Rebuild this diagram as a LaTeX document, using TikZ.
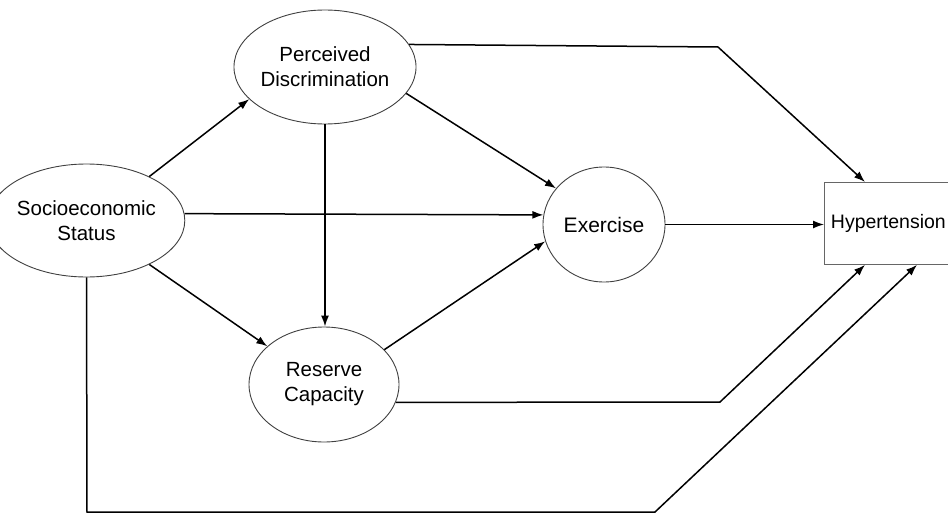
\documentclass[tikz,border=0pt]{standalone}
\usepackage{fontspec}
\setmainfont{Liberation Sans}
\usetikzlibrary{shapes.geometric,arrows.meta}
\begin{document}
\begin{tikzpicture}[x=1pt,y=-1pt,
  lat/.style={ellipse,draw=black!75,line width=0.9pt,inner sep=0pt,align=center,
    font=\fontsize{20.5}{25}\selectfont},
  obs/.style={rectangle,draw=black!60,line width=0.9pt,inner sep=0pt,
    font=\fontsize{19.5}{24}\selectfont},
  arr/.style={line width=1.5pt,-{Latex[length=11pt,width=8pt]}}]
\useasboundingbox (0,0) rectangle (948,514);
\node[lat,minimum width=153pt,minimum height=113pt] (ses) at (86.5,220.5) {Socioeconomic\\Status};
\node[lat,minimum width=152pt,minimum height=114pt] (pd) at (325,67) {Perceived\\Discrimination};
\node[lat,minimum width=150pt,minimum height=115pt] (rc) at (324,384.5) {Reserve\\Capacity};
\node[lat,minimum width=122pt,minimum height=115pt,font=\fontsize{21}{25}\selectfont] (ex) at (604,224.5) {Exercise};
\node[obs,minimum width=136pt,minimum height=82pt,anchor=north west,text width=128pt,align=left] (hyp) at (824,182) {\hspace*{2.5pt}Hypertension};
\coordinate (pdk) at (718,47);
\coordinate (rck) at (720,402);
\coordinate (sesb) at (87,512);
\coordinate (sesk) at (655,512);
\draw[arr] (ses.35.7) -- (pd.203.8);
\draw[arr] (ses.-35) -- (rc.146.7);
\draw[arr] (ses.4) -- (ex.171);
\draw[arr] (pd.south) -- (pd.south |- rc.north);
\draw[arr] (pd.-18.2) -- (ex.143);
\draw[arr] (rc.30.7) -- (ex.196.5);
\draw[arr] (ex.east) -- (ex.east -| hyp.west);
\draw[arr] (pd.15.7) -- (pdk) -- ([xshift=41pt]hyp.north west);
\draw[arr] (rc.-14.6) -- (rck) -- ([xshift=41pt]hyp.south west);
\draw[arr] (ses.south) -- (sesb) -- (sesk) -- ([xshift=93pt]hyp.south west);
\end{tikzpicture}
\end{document}
